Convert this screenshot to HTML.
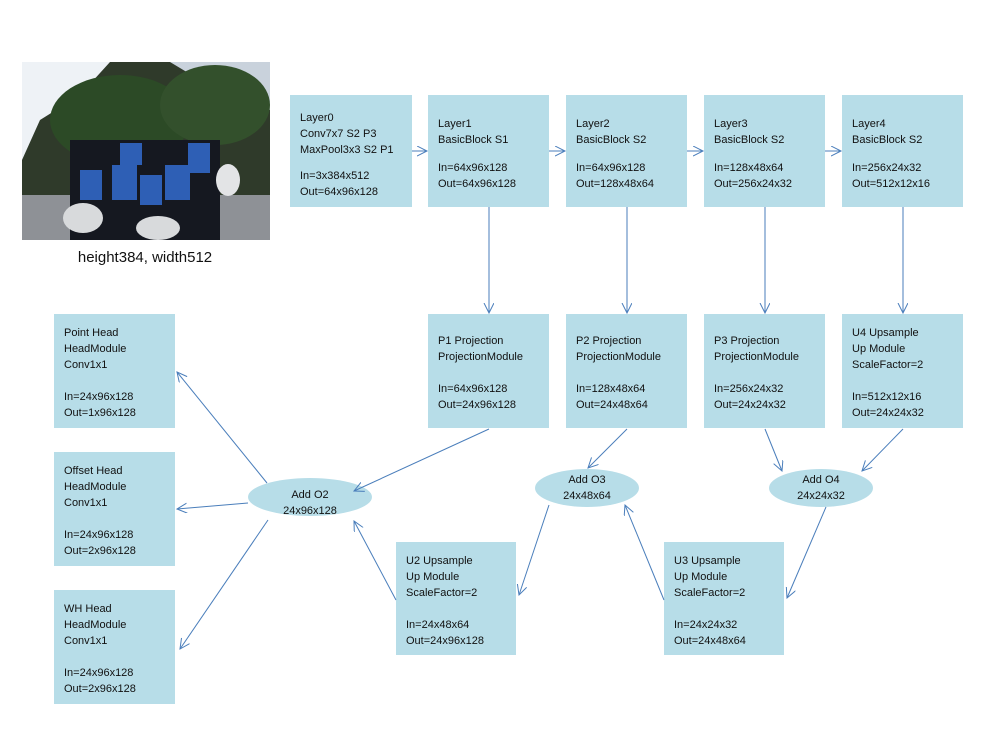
<!DOCTYPE html>
<html><head><meta charset="utf-8"><style>
html,body{margin:0;padding:0;background:#fff;width:998px;height:740px;overflow:hidden}
svg text{font-family:"Liberation Sans",sans-serif;font-size:11px;fill:#111}
</style></head><body>
<svg width="998" height="740" viewBox="0 0 998 740" xmlns="http://www.w3.org/2000/svg">
<defs>
<marker id="a" markerWidth="12" markerHeight="12" refX="10" refY="5" orient="auto" markerUnits="userSpaceOnUse">
<path d="M0,0 L10,5 L0,10" fill="none" stroke="#4a7ebb" stroke-width="1"/>
</marker>
</defs>
<!-- photo -->
<rect x="22" y="62" width="248" height="178" fill="#2f3a2a"/>
<polygon points="22,62 110,62 80,95 40,120 22,160" fill="#eef2f6"/>
<polygon points="170,62 270,62 270,110 230,90 200,80" fill="#c9d2dc"/>
<ellipse cx="120" cy="120" rx="70" ry="45" fill="#2c4a26"/>
<ellipse cx="215" cy="105" rx="55" ry="40" fill="#33502c"/>
<rect x="22" y="195" width="248" height="45" fill="#8e9196"/>
<rect x="70" y="140" width="150" height="100" fill="#151820"/>
<rect x="80" y="170" width="22" height="30" fill="#2e5fb5"/>
<rect x="112" y="165" width="25" height="35" fill="#2e5fb5"/>
<rect x="140" y="175" width="22" height="30" fill="#2e5fb5"/>
<rect x="165" y="165" width="25" height="35" fill="#2e5fb5"/>
<rect x="188" y="143" width="22" height="30" fill="#2e5fb5"/>
<rect x="120" y="143" width="22" height="22" fill="#2e5fb5"/>
<ellipse cx="83" cy="218" rx="20" ry="15" fill="#d8dadc"/>
<ellipse cx="158" cy="228" rx="22" ry="12" fill="#d8dadc"/>
<ellipse cx="228" cy="180" rx="12" ry="16" fill="#e3e4e6"/>
<text x="145" y="262" text-anchor="middle" style="font-size:15px">height384, width512</text>

<g fill="#b7dde8">
<rect x="290" y="95" width="122" height="112"/>
<rect x="428" y="95" width="121" height="112"/>
<rect x="566" y="95" width="121" height="112"/>
<rect x="704" y="95" width="121" height="112"/>
<rect x="842" y="95" width="121" height="112"/>
<rect x="428" y="314" width="121" height="114"/>
<rect x="566" y="314" width="121" height="114"/>
<rect x="704" y="314" width="121" height="114"/>
<rect x="842" y="314" width="121" height="114"/>
<rect x="54" y="314" width="121" height="114"/>
<rect x="54" y="452" width="121" height="114"/>
<rect x="54" y="590" width="121" height="114"/>
<rect x="396" y="542" width="120" height="113"/>
<rect x="664" y="542" width="120" height="113"/>
<ellipse cx="310" cy="497" rx="62" ry="19"/>
<ellipse cx="587" cy="488" rx="52" ry="19"/>
<ellipse cx="821" cy="488" rx="52" ry="19"/>
</g>

<g stroke="#4a7ebb" stroke-width="1" fill="none" marker-end="url(#a)">
<line x1="412" y1="151" x2="427" y2="151"/>
<line x1="549" y1="151" x2="565" y2="151"/>
<line x1="687" y1="151" x2="703" y2="151"/>
<line x1="825" y1="151" x2="841" y2="151"/>
<line x1="489" y1="207" x2="489" y2="313"/>
<line x1="627" y1="207" x2="627" y2="313"/>
<line x1="765" y1="207" x2="765" y2="313"/>
<line x1="903" y1="207" x2="903" y2="313"/>
<line x1="489" y1="429" x2="354" y2="491"/>
<line x1="627" y1="429" x2="588" y2="468"/>
<line x1="765" y1="429" x2="782" y2="471"/>
<line x1="903" y1="429" x2="862" y2="471"/>
<line x1="396" y1="600" x2="354" y2="521"/>
<line x1="549" y1="505" x2="519" y2="595"/>
<line x1="664" y1="600" x2="625" y2="505"/>
<line x1="826" y1="507" x2="787" y2="598"/>
<line x1="267" y1="483" x2="177" y2="372"/>
<line x1="248" y1="503" x2="177" y2="509"/>
<line x1="268" y1="520" x2="180" y2="649"/>
</g>

<text x="300" y="121">Layer0</text><text x="300" y="137">Conv7x7 S2 P3</text><text x="300" y="153">MaxPool3x3 S2 P1</text><text x="300" y="179">In=3x384x512</text><text x="300" y="195">Out=64x96x128</text>
<text x="438" y="127">Layer1</text><text x="438" y="143">BasicBlock S1</text><text x="438" y="171">In=64x96x128</text><text x="438" y="187">Out=64x96x128</text>
<text x="576" y="127">Layer2</text><text x="576" y="143">BasicBlock S2</text><text x="576" y="171">In=64x96x128</text><text x="576" y="187">Out=128x48x64</text>
<text x="714" y="127">Layer3</text><text x="714" y="143">BasicBlock S2</text><text x="714" y="171">In=128x48x64</text><text x="714" y="187">Out=256x24x32</text>
<text x="852" y="127">Layer4</text><text x="852" y="143">BasicBlock S2</text><text x="852" y="171">In=256x24x32</text><text x="852" y="187">Out=512x12x16</text>

<text x="438" y="344">P1 Projection</text><text x="438" y="360">ProjectionModule</text><text x="438" y="392">In=64x96x128</text><text x="438" y="408">Out=24x96x128</text>
<text x="576" y="344">P2 Projection</text><text x="576" y="360">ProjectionModule</text><text x="576" y="392">In=128x48x64</text><text x="576" y="408">Out=24x48x64</text>
<text x="714" y="344">P3 Projection</text><text x="714" y="360">ProjectionModule</text><text x="714" y="392">In=256x24x32</text><text x="714" y="408">Out=24x24x32</text>
<text x="852" y="336">U4 Upsample</text><text x="852" y="352">Up Module</text><text x="852" y="368">ScaleFactor=2</text><text x="852" y="400">In=512x12x16</text><text x="852" y="416">Out=24x24x32</text>

<text x="64" y="336">Point Head</text><text x="64" y="352">HeadModule</text><text x="64" y="368">Conv1x1</text><text x="64" y="400">In=24x96x128</text><text x="64" y="416">Out=1x96x128</text>
<text x="64" y="474">Offset Head</text><text x="64" y="490">HeadModule</text><text x="64" y="506">Conv1x1</text><text x="64" y="538">In=24x96x128</text><text x="64" y="554">Out=2x96x128</text>
<text x="64" y="612">WH Head</text><text x="64" y="628">HeadModule</text><text x="64" y="644">Conv1x1</text><text x="64" y="676">In=24x96x128</text><text x="64" y="692">Out=2x96x128</text>

<text x="406" y="564">U2 Upsample</text><text x="406" y="580">Up Module</text><text x="406" y="596">ScaleFactor=2</text><text x="406" y="628">In=24x48x64</text><text x="406" y="644">Out=24x96x128</text>
<text x="674" y="564">U3 Upsample</text><text x="674" y="580">Up Module</text><text x="674" y="596">ScaleFactor=2</text><text x="674" y="628">In=24x24x32</text><text x="674" y="644">Out=24x48x64</text>

<text x="310" y="498" text-anchor="middle">Add O2</text><text x="310" y="514" text-anchor="middle">24x96x128</text>
<text x="587" y="483" text-anchor="middle">Add O3</text><text x="587" y="499" text-anchor="middle">24x48x64</text>
<text x="821" y="483" text-anchor="middle">Add O4</text><text x="821" y="499" text-anchor="middle">24x24x32</text>
</svg>
</body></html>
